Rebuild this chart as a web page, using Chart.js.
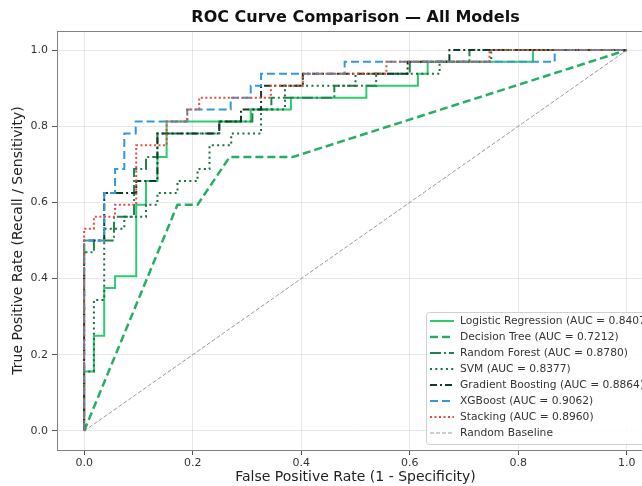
<!DOCTYPE html>
<html>
<head>
<meta charset="utf-8">
<script src="https://cdn.jsdelivr.net/npm/chart.js@4.4.1/dist/chart.umd.min.js"></script>
<style>
  html, body { margin: 0; padding: 0; background: #fff; overflow: hidden; }
</style>
</head>
<body>
<canvas id="roc" width="700" height="486"></canvas>
<script>
// ROC points (fpr / tpr corner points)
const lrFpr = [0, 0, 0.018, 0.018, 0.037, 0.037, 0.057, 0.057, 0.096, 0.096, 0.114, 0.114, 0.135, 0.135, 0.152, 0.152, 0.307, 0.307, 0.381, 0.381, 0.52, 0.52, 0.615, 0.615, 0.633, 0.633, 0.827, 0.827, 1];
const lrTpr = [0, 0.156, 0.156, 0.25, 0.25, 0.375, 0.375, 0.406, 0.406, 0.594, 0.594, 0.656, 0.656, 0.719, 0.719, 0.8125, 0.8125, 0.844, 0.844, 0.875, 0.875, 0.906, 0.906, 0.9375, 0.9375, 0.969, 0.969, 1, 1];

const dtFpr = [0, 0.172, 0.209, 0.268, 0.384, 1];
const dtTpr = [0, 0.594, 0.594, 0.719, 0.719, 1];

const rfFpr = [0, 0, 0.018, 0.018, 0.055, 0.055, 0.092, 0.092, 0.114, 0.114, 0.135, 0.135, 0.249, 0.249, 0.31, 0.31, 0.345, 0.345, 0.461, 0.461, 0.538, 0.538, 0.6, 0.6, 0.71, 0.71, 1];
const rfTpr = [0, 0.469, 0.469, 0.5, 0.5, 0.5625, 0.5625, 0.6875, 0.6875, 0.719, 0.719, 0.781, 0.781, 0.8125, 0.8125, 0.844, 0.844, 0.875, 0.875, 0.906, 0.906, 0.9375, 0.9375, 0.969, 0.969, 1, 1];

const svmFpr = [0, 0, 0.018, 0.018, 0.037, 0.037, 0.074, 0.074, 0.114, 0.114, 0.135, 0.135, 0.172, 0.172, 0.209, 0.209, 0.231, 0.231, 0.271, 0.271, 0.326, 0.326, 0.37, 0.37, 0.5, 0.5, 0.655, 0.655, 0.75, 0.75, 1];
const svmTpr = [0, 0.156, 0.156, 0.344, 0.344, 0.531, 0.531, 0.5625, 0.5625, 0.594, 0.594, 0.625, 0.625, 0.656, 0.656, 0.6875, 0.6875, 0.75, 0.75, 0.781, 0.781, 0.844, 0.844, 0.906, 0.906, 0.9375, 0.9375, 0.969, 0.969, 1, 1];

const gbFpr = [0, 0, 0.037, 0.037, 0.096, 0.096, 0.135, 0.135, 0.249, 0.249, 0.289, 0.289, 0.326, 0.326, 0.403, 0.403, 0.596, 0.596, 0.673, 0.673, 1];
const gbTpr = [0, 0.5, 0.5, 0.625, 0.625, 0.656, 0.656, 0.781, 0.781, 0.8125, 0.8125, 0.844, 0.844, 0.906, 0.906, 0.9375, 0.9375, 0.969, 0.969, 1, 1];

const xgbFpr = [0, 0, 0.037, 0.037, 0.057, 0.057, 0.074, 0.074, 0.095, 0.095, 0.19, 0.19, 0.27, 0.27, 0.307, 0.307, 0.326, 0.326, 0.48, 0.48, 0.867, 0.867, 1];
const xgbTpr = [0, 0.5, 0.5, 0.625, 0.625, 0.6875, 0.6875, 0.781, 0.781, 0.8125, 0.8125, 0.844, 0.844, 0.875, 0.875, 0.906, 0.906, 0.9375, 0.9375, 0.969, 0.969, 1, 1];

const stFpr = [0, 0, 0.018, 0.018, 0.057, 0.057, 0.096, 0.096, 0.152, 0.152, 0.19, 0.19, 0.212, 0.212, 0.344, 0.344, 0.403, 0.403, 0.557, 0.557, 0.747, 0.747, 1];
const stTpr = [0, 0.531, 0.531, 0.5625, 0.5625, 0.594, 0.594, 0.75, 0.75, 0.8125, 0.8125, 0.844, 0.844, 0.875, 0.875, 0.906, 0.906, 0.9375, 0.9375, 0.969, 0.969, 1, 1];

const baseFpr = [0, 1];
const baseTpr = [0, 1];

const modelNames = ["Logistic Regression", "Decision Tree", "Random Forest", "SVM", "Gradient Boosting", "XGBoost", "Stacking"];
const aucValues = [0.8407, 0.7212, 0.8780, 0.8377, 0.8864, 0.9062, 0.8960];
const xTicks = [0, 0.2, 0.4, 0.6, 0.8, 1.0];
const yTicks = [0, 0.2, 0.4, 0.6, 0.8, 1.0];

const FONT = "'DejaVu Sans', sans-serif";

function pts(xs, ys) {
    return xs.map((x, i) => ({ x: x, y: ys[i] }));
}

const curves = [
    { fpr: lrFpr,  tpr: lrTpr,  color: "#2ecc71", dash: [],            width: 2 },
    { fpr: dtFpr,  tpr: dtTpr,  color: "#27ae60", dash: [8, 4],        width: 2.5 },
    { fpr: rfFpr,  tpr: rfTpr,  color: "#1e8449", dash: [11, 3, 2, 3], width: 2 },
    { fpr: svmFpr, tpr: svmTpr, color: "#196f3d", dash: [2, 3.3],      width: 2 },
    { fpr: gbFpr,  tpr: gbTpr,  color: "#0e3d24", dash: [7, 3, 2, 3],  width: 2 },
    { fpr: xgbFpr, tpr: xgbTpr, color: "#3498db", dash: [8, 4],        width: 2 },
    { fpr: stFpr,  tpr: stTpr,  color: "#e74c3c", dash: [2, 2.5],      width: 2 }
];

const datasets = curves.map((c, i) => ({
    label: modelNames[i] + " (AUC = " + aucValues[i].toFixed(4) + ")",
    data: pts(c.fpr, c.tpr),
    borderColor: c.color,
    borderDash: c.dash,
    borderWidth: c.width,
    showLine: true,
    pointRadius: 0,
    tension: 0,
    order: 10 - i
}));
datasets.push({
    label: "Random Baseline",
    data: pts(baseFpr, baseTpr),
    borderColor: "rgba(128,128,128,0.8)",
    borderDash: [4, 2],
    borderWidth: 1,
    showLine: true,
    pointRadius: 0,
    order: 1
});

// frame, title and matplotlib-like legend
const decor = {
    id: "decor",
    afterDraw(chart) {
        const ctx = chart.ctx;
        const a = chart.chartArea;
        ctx.save();
        ctx.strokeStyle = "#808080";
        ctx.lineWidth = 1;
        ctx.strokeRect(a.left + 0.5, a.top + 0.5, a.right - a.left, a.bottom - a.top);

        ctx.fillStyle = "#111";
        ctx.font = "bold 16px " + FONT;
        ctx.textAlign = "center";
        ctx.textBaseline = "middle";
        ctx.fillText("ROC Curve Comparison \u2014 All Models", (a.left + a.right) / 2, 18);

        // legend box
        const bx = 426, by = 312, bw = 250, rowH = 16;
        const bh = rowH * datasets.length + 4;
        ctx.beginPath();
        ctx.roundRect(bx + 0.5, by + 0.5, bw, bh, 3);
        ctx.fillStyle = "rgba(255,255,255,0.85)";
        ctx.fill();
        ctx.strokeStyle = "#d0d0d0";
        ctx.stroke();

        ctx.font = "10.7px " + FONT;
        ctx.textAlign = "left";
        datasets.forEach((d, i) => {
            const y = by + 9 + i * rowH;
            ctx.beginPath();
            ctx.setLineDash(d.borderDash);
            ctx.strokeStyle = d.borderColor;
            ctx.lineWidth = d.borderWidth;
            ctx.moveTo(430, y);
            ctx.lineTo(454, y);
            ctx.stroke();
            ctx.setLineDash([]);
            ctx.fillStyle = "#333";
            ctx.fillText(d.label, 460, y + 0.5);
        });
        ctx.restore();
    }
};

const ctx = document.getElementById("roc").getContext("2d");
const rocChart = new Chart(ctx, {
    type: "scatter",
    data: { datasets: datasets },
    options: {
        responsive: false,
        animation: false,
        layout: { padding: { top: 31, right: 46, left: 0, bottom: 0 } },
        plugins: {
            legend: { display: false },
            tooltip: { enabled: false }
        },
        scales: {
            x: {
                type: "linear",
                min: -0.05,
                max: 1.05,
                afterBuildTicks: s => { s.ticks = xTicks.map(v => ({ value: v })); },
                afterFit: s => { s.height = 36; },
                grid: { color: "rgba(0,0,0,0.09)", tickColor: "#555", tickLength: 5 },
                border: { display: false },
                ticks: {
                    padding: 2,
                    color: "#333",
                    font: { family: FONT, size: 11 },
                    callback: v => v.toFixed(1)
                },
                title: {
                    display: true,
                    text: "False Positive Rate (1 - Specificity)",
                    color: "#222",
                    font: { family: FONT, size: 14 },
                    padding: { top: 0, bottom: 0 }
                }
            },
            y: {
                type: "linear",
                min: -0.05,
                max: 1.05,
                afterBuildTicks: s => { s.ticks = yTicks.map(v => ({ value: v })); },
                afterFit: s => { s.width = 57; },
                grid: { color: "rgba(0,0,0,0.09)", tickColor: "#555", tickLength: 5 },
                border: { display: false },
                ticks: {
                    padding: 4,
                    color: "#333",
                    font: { family: FONT, size: 11 },
                    callback: v => v.toFixed(1)
                },
                title: {
                    display: true,
                    text: "True Positive Rate (Recall / Sensitivity)",
                    color: "#222",
                    font: { family: FONT, size: 14 },
                    padding: { top: 10, bottom: 0 }
                }
            }
        }
    },
    plugins: [decor]
});
</script>
</body>
</html>
